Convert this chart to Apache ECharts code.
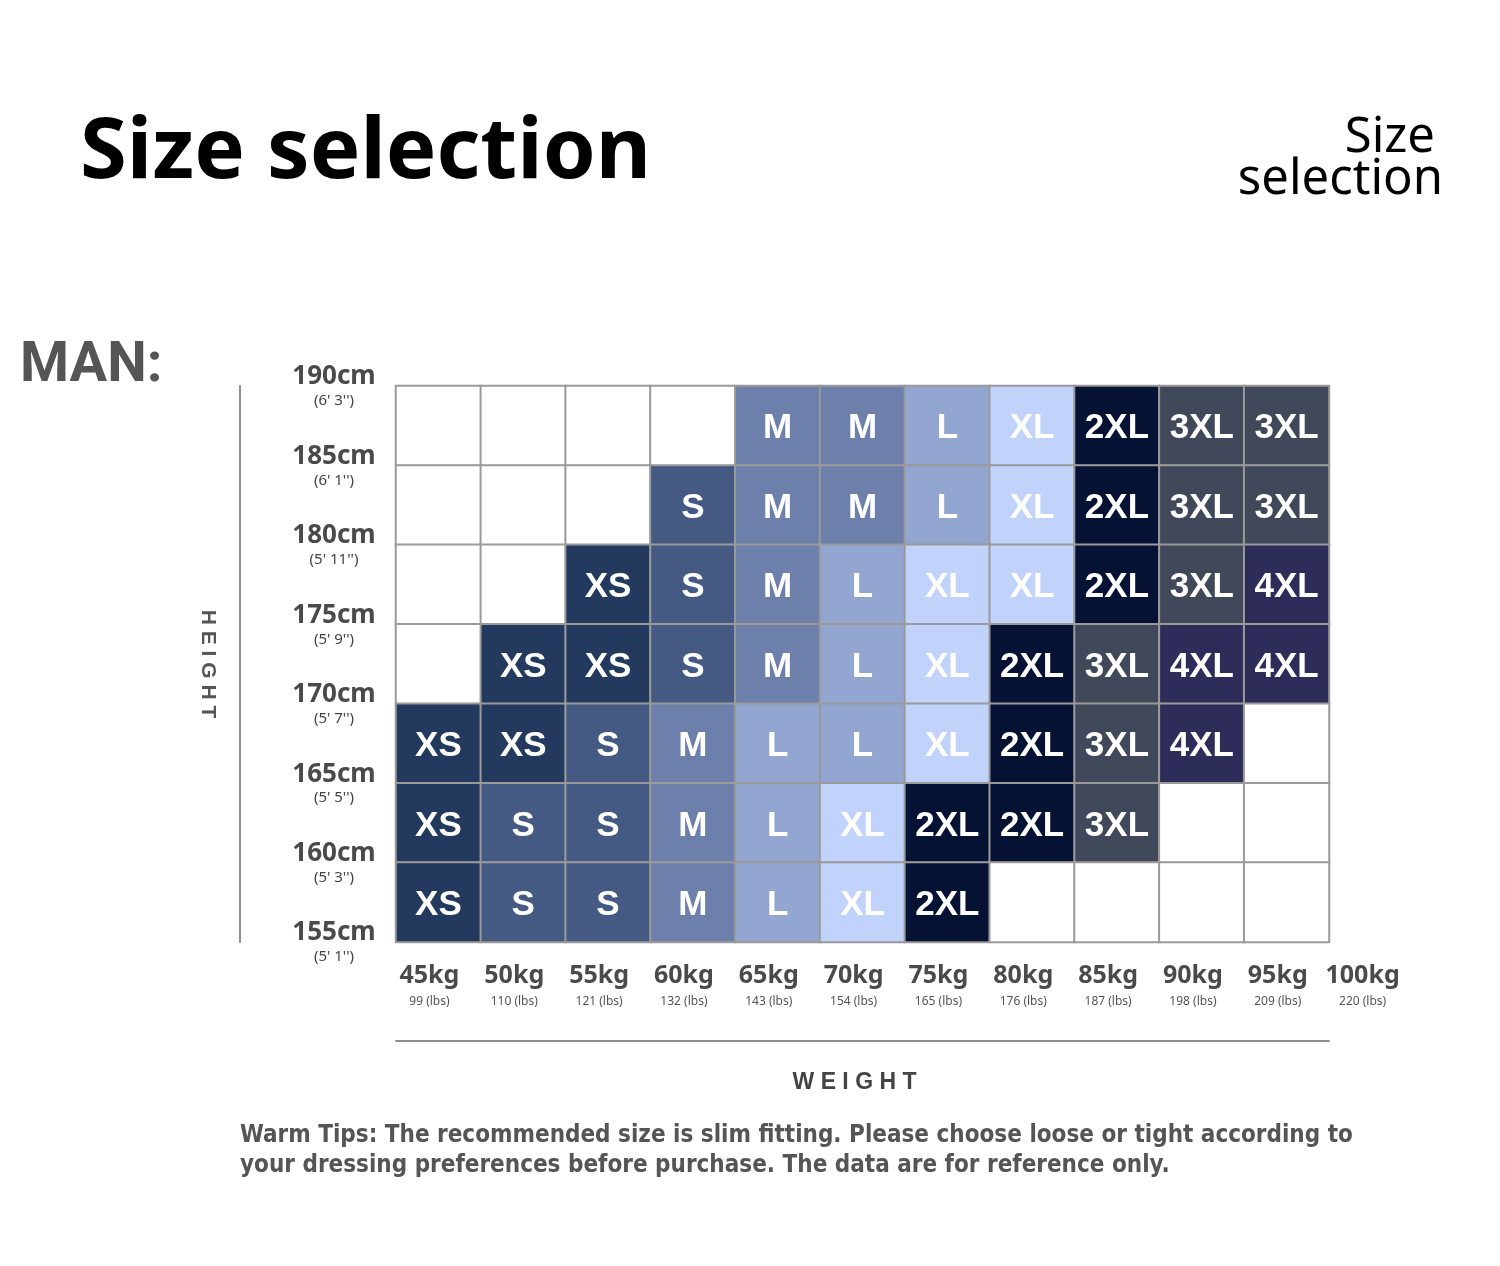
<!DOCTYPE html>
<html>
<head>
<meta charset="utf-8">
<title>Size selection</title>
<script src="https://cdn.jsdelivr.net/npm/echarts@6/dist/echarts.min.js"></script>
<style>
  html, body { margin: 0; padding: 0; background: #fff; }
  #chart { width: 1500px; height: 1266px; }
</style>
</head>
<body>
<div id="chart"></div>
<script>
// weight columns (kg bins) and their tick labels
var weightBins = ['45-50', '50-55', '55-60', '60-65', '65-70', '70-75', '75-80', '80-85', '85-90', '90-95', '95-100'];
var weightLabels = ['45kg', '50kg', '55kg', '60kg', '65kg', '70kg', '75kg', '80kg', '85kg', '90kg', '95kg', '100kg'];
var lbsLabels = ['99', '110', '121', '132', '143', '154', '165', '176', '187', '198', '209', '220'];

// height rows, bottom to top
var heightBins = ['155-160', '160-165', '165-170', '170-175', '175-180', '180-185', '185-190'];
var heightLabels = ['155cm', '160cm', '165cm', '170cm', '175cm', '180cm', '185cm', '190cm'];
var inchLabels = ["5' 1''", "5' 3''", "5' 5''", "5' 7''", "5' 9''", "5' 11''", "6' 1''", "6' 3''"];

var sizeNames = ['', 'XS', 'S', 'M', 'L', 'XL', '2XL', '3XL', '4XL'];
var sizeColors = ['#ffffff', '#233a5e', '#445a82', '#6c80ab', '#92a6d1', '#c1d3fa', '#061234', '#414859', '#2e2c59'];

// table rows, top (185-190cm) to bottom (155-160cm)
var sizeRows = [
  ['', '', '', '', 'M', 'M', 'L', 'XL', '2XL', '3XL', '3XL'],
  ['', '', '', 'S', 'M', 'M', 'L', 'XL', '2XL', '3XL', '3XL'],
  ['', '', 'XS', 'S', 'M', 'L', 'XL', 'XL', '2XL', '3XL', '4XL'],
  ['', 'XS', 'XS', 'S', 'M', 'L', 'XL', '2XL', '3XL', '4XL', '4XL'],
  ['XS', 'XS', 'S', 'M', 'L', 'L', 'XL', '2XL', '3XL', '4XL', ''],
  ['XS', 'S', 'S', 'M', 'L', 'XL', '2XL', '2XL', '3XL', '', ''],
  ['XS', 'S', 'S', 'M', 'L', 'XL', '2XL', '', '', '', '']
];

var cells = [];
sizeRows.forEach(function (row, r) {
  row.forEach(function (s, c) {
    cells.push([c, heightBins.length - 1 - r, sizeNames.indexOf(s)]);
  });
});

var pieces = sizeNames.map(function (n, i) {
  return { value: i, color: sizeColors[i] };
});

var gray = '#8f8f8f';
var labelFont = '"Noto Sans", sans-serif';

var chart = echarts.init(document.getElementById('chart'));

chart.setOption({
  backgroundColor: '#ffffff',
  animation: false,
  grid: [
    { left: 396, top: 386, width: 933, height: 556 },
    { left: 387, top: 386, width: 1018, height: 556 }
  ],
  xAxis: [{
    type: 'category',
    gridIndex: 0,
    data: weightBins,
    offset: 99,
    axisLine: { lineStyle: { color: gray, width: 2 } },
    axisTick: { show: false },
    axisLabel: { show: false },
    splitLine: { show: false },
    name: 'W E I G H T',
    nameLocation: 'middle',
    nameGap: 30,
    nameTextStyle: {
      color: '#444', fontSize: 23, fontWeight: 'bold',
      fontFamily: '"Liberation Sans", sans-serif',
      padding: [0, 16, 0, 0]
    }
  }, {
    type: 'category',
    gridIndex: 1,
    data: weightLabels,
    axisLine: { show: false },
    axisTick: { show: false },
    axisLabel: {
      margin: 19,
      formatter: function (v, i) {
        return '{a|' + v + '}\n{b|' + lbsLabels[i] + ' (lbs)}';
      },
      rich: {
        a: { fontSize: 25, fontWeight: 'bold', color: '#4a4a4a', fontFamily: labelFont, lineHeight: 30 },
        b: { fontSize: 12, color: '#555', fontFamily: labelFont, lineHeight: 22 }
      }
    }
  }],
  yAxis: [{
    type: 'category',
    gridIndex: 0,
    data: heightBins,
    offset: 156,
    axisLine: { lineStyle: { color: gray, width: 2 } },
    axisTick: { show: false },
    axisLabel: { show: false },
    splitLine: { show: false },
    name: 'H E I G H T',
    nameLocation: 'middle',
    nameRotate: -90,
    nameGap: 22,
    nameTextStyle: { color: '#555', fontSize: 21, fontWeight: 'bold', fontFamily: '"Liberation Sans", sans-serif' }
  }, {
    type: 'category',
    gridIndex: 0,
    position: 'left',
    boundaryGap: false,
    data: heightLabels,
    axisLine: { show: false },
    axisTick: { show: false },
    splitLine: { show: false },
    axisLabel: {
      align: 'center',
      margin: 62,
      formatter: function (v, i) {
        return '{a|' + v + '}\n{b|(' + inchLabels[i] + ')}';
      },
      rich: {
        a: { fontSize: 26, fontWeight: 'bold', color: '#4a4a4a', fontFamily: labelFont, lineHeight: 30, padding: [6, 0, 0, 0] },
        b: { fontSize: 15, color: '#444', fontFamily: labelFont, lineHeight: 24 }
      }
    }
  }, {
    type: 'category',
    gridIndex: 1,
    show: false,
    data: ['']
  }],
  visualMap: {
    type: 'piecewise',
    show: false,
    dimension: 2,
    seriesIndex: 0,
    pieces: pieces
  },
  series: [{
    type: 'heatmap',
    xAxisIndex: 0,
    yAxisIndex: 0,
    data: cells,
    itemStyle: { borderColor: '#9a9a9a', borderWidth: 2 },
    label: {
      show: true,
      color: '#ffffff',
      fontSize: 35,
      fontWeight: 'bold',
      fontFamily: '"Liberation Sans", Arial, sans-serif',
      offset: [0, 3],
      formatter: function (p) { return sizeNames[p.value[2]]; }
    },
    emphasis: { disabled: true }
  }],
  graphic: [{
    type: 'text',
    left: 80,
    top: 111,
    style: { text: 'Size selection', fill: '#000', font: 'bold 85px "Noto Sans", sans-serif' }
  }, {
    type: 'text',
    right: 65,
    top: 114,
    style: { text: 'Size', fill: '#000', font: '49px "Noto Sans", sans-serif' }
  }, {
    type: 'text',
    right: 57,
    top: 156,
    style: { text: 'selection', fill: '#000', font: '49px "Noto Sans", sans-serif' }
  }, {
    type: 'text',
    left: 20,
    top: 339,
    style: { text: 'MAN:', fill: '#555', font: 'bold 56px Roboto, sans-serif' }
  }, {
    type: 'text',
    left: 240,
    top: 1121,
    style: {
      text: 'Warm Tips: The recommended size is slim fitting. Please choose loose or tight according to\nyour dressing preferences before purchase. The data are for reference only.',
      fill: '#555',
      font: 'bold 24px "DejaVu Sans Condensed", sans-serif',
      lineHeight: 30
    }
  }]
});

window.onresize = function () {
  chart.resize();
};
</script>
</body>
</html>
